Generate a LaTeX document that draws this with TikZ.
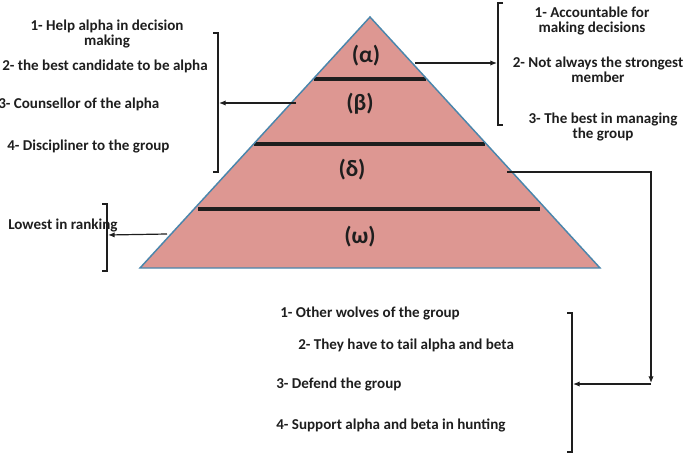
\documentclass[tikz,border=0pt]{standalone}
\usepackage{fontspec}
\setmainfont{Carlito}
\usetikzlibrary{arrows.meta}
\definecolor{pyrfill}{RGB}{221,151,146}
\definecolor{pyredge}{RGB}{74,134,172}
\definecolor{ink}{RGB}{30,30,30}
\begin{document}
\begin{tikzpicture}[x=0.75pt,y=-0.75pt,
  txt/.style={font=\fontsize{11.3}{11.6}\selectfont\bfseries, inner sep=0pt, text=ink, align=center},
  lvl/.style={font=\fontsize{17.5}{19}\selectfont\bfseries, inner sep=0pt, text=ink},
  brk/.style={line width=0.9pt, ink},
  arr/.style={line width=0.9pt, ink, -{Latex[length=5pt,width=4pt]}},
  divider/.style={line width=2.4pt, ink}]
\useasboundingbox (0,0) rectangle (685,456);
% pyramid
\coordinate (apex) at (370,17);
\coordinate (bl) at (140,268);
\coordinate (br) at (600,268);
\fill[pyrfill] (apex) -- (br) -- (bl) -- cycle;
\draw[divider] (314,79) -- (426,79);
\draw[divider] (254,144) -- (485,144);
\draw[divider] (198,209) -- (540,209);
\draw[pyredge, line width=1.1pt, line join=miter] (apex) -- (br) -- (bl) -- cycle;
% level labels
\node[lvl] (alpha) at (366,56) {(α)};
\node[lvl] (beta) at (360,104) {(β)};
\node[lvl] (delta) at (352,170) {(δ)};
\node[lvl] (omega) at (360,237) {(ω)};
% left texts (beta)
\node[txt] (b1) at (107,34) {1- Help alpha in decision\\making};
\node[txt, anchor=west] (b2) at (2,66) {2- the best candidate to be alpha};
\node[txt, anchor=west] (b3) at (-2,104) {3- Counsellor of the alpha};
\node[txt, anchor=west] (b4) at (7,146) {4- Discipliner to the group};
% right texts (alpha)
\node[txt] (a1) at (592,21) {1- Accountable for\\making decisions};
\node[txt] (a2) at (598,70) {2- Not always the strongest\\member};
\node[txt] (a3) at (603,127) {3- The best in managing\\the group};
% omega text
\node[txt, anchor=west] (o1) at (8,225) {Lowest in ranking};
% delta texts
\node[txt, anchor=west] (d1) at (280,313) {1- Other wolves of the group};
\node[txt, anchor=west] (d2) at (298,345) {2- They have to tail alpha and beta};
\node[txt, anchor=west] (d3) at (276,384) {3- Defend the group};
\node[txt, anchor=west] (d4) at (276,425) {4- Support alpha and beta in hunting};
% brackets
\draw[brk] (213,33) -- (218,33) -- (218,172) -- (213,172);
\draw[brk] (503,3) -- (498,3) -- (498,125) -- (503,125);
\draw[brk] (102,204) -- (107,204) -- (107,271) -- (102,271);
\draw[brk] (567,313) -- (572,313) -- (572,452) -- (567,452);
% connector endpoints
\coordinate (betaout) at (296,103);
\coordinate (lbrk) at (219,103);
\coordinate (alphaout) at (415,63);
\coordinate (rbrk) at (497,63);
\coordinate (omegaout) at (167,234);
\coordinate (llbrk) at (108,235);
\coordinate (deltaout) at (507,172);
\coordinate (corner) at (651,383);
\coordinate (cornerb) at (651,384);
\coordinate (dbrk) at (573,384);
\draw[arr] (betaout) -- (lbrk);
\draw[arr] (alphaout) -- (rbrk);
\draw[arr] (omegaout) -- (llbrk);
\draw[arr] (deltaout) -| (corner);
\draw[arr] (cornerb) -- (dbrk);
\end{tikzpicture}
\end{document}
